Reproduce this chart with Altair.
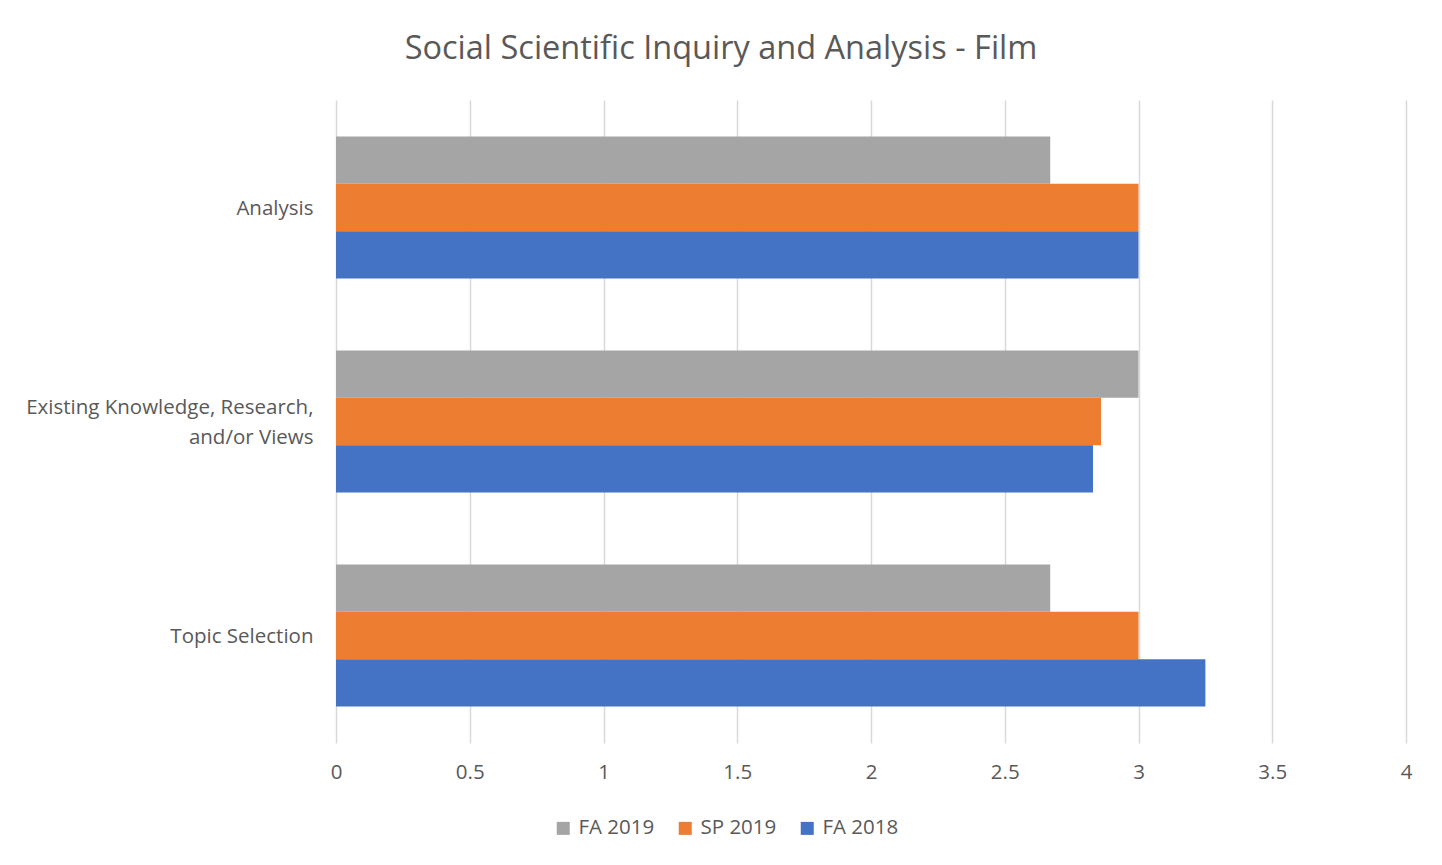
import altair as alt
import pandas as pd

categories = ["Analysis", "Existing Knowledge, Research, and/or Views", "Topic Selection"]
series = ["FA 2019", "SP 2019", "FA 2018"]
fa2019 = [2.67, 3.0, 2.67]
sp2019 = [3.0, 2.86, 3.0]
fa2018 = [3.0, 2.83, 3.25]
colors = ["#A5A5A5", "#ED7D31", "#4472C4"]
x_ticks = [0, 0.5, 1, 1.5, 2, 2.5, 3, 3.5, 4]

rows = []
for s, vals in zip(series, [fa2019, sp2019, fa2018]):
    for c, v in zip(categories, vals):
        rows.append({"category": c, "series": s, "value": v})
df = pd.DataFrame(rows)

FONT = "Open Sans"
TXT = "#595959"

label_expr = ("datum.label == 'Existing Knowledge, Research, and/or Views' ? "
              "['Existing Knowledge, Research,', 'and/or Views'] : datum.label")

chart = alt.Chart(df).mark_bar().encode(
    x=alt.X("value:Q",
            scale=alt.Scale(domain=[0, 4], nice=False),
            axis=alt.Axis(values=x_ticks, title=None, domain=False, ticks=False,
                          grid=True, gridColor="#D9D9D9", gridWidth=1.5,
                          labelFont=FONT, labelFontSize=20.5, labelColor=TXT,
                          labelPadding=19, labelFlush=False,
                          labelExpr="datum.value")),
    y=alt.Y("category:N", sort=categories,
            scale=alt.Scale(paddingInner=0.336, paddingOuter=0.17),
            axis=alt.Axis(title=None, domain=False, ticks=False, grid=False,
                          labelFont=FONT, labelFontSize=20.5, labelColor=TXT,
                          labelPadding=23, labelLineHeight=30, labelLimit=400,
                          labelOffset={"condition": {"test": "indexof(datum.value, 'Existing') == 0",
                                                     "value": -14},
                                       "value": 1.5},
                          labelExpr=label_expr)),
    yOffset=alt.YOffset("series:N", sort=series,
                        scale=alt.Scale(paddingInner=0, paddingOuter=0)),
    color=alt.Color("series:N", sort=series,
                    scale=alt.Scale(domain=series, range=colors),
                    legend=alt.Legend(title=None, orient="none", direction="horizontal",
                                      legendX=217, legendY=718,
                                      symbolType="square", symbolSize=169,
                                      symbolStrokeWidth=0,
                                      labelFont=FONT, labelFontSize=20.5, labelColor=TXT,
                                      columnPadding=20, labelOffset=5)),
).properties(
    width=1070,
    height=643,
    title=alt.TitleParams("Social Scientific Inquiry and Analysis - Film",
                          font=FONT, fontSize=32.5, fontWeight="normal", color=TXT,
                          anchor="middle", dx=-150, offset=35),
    autosize=alt.AutoSizeParams(type="none"),
    padding={"left": 328, "top": 92, "right": 28, "bottom": 114},
).configure_view(stroke=None)

chart.save("out.html", embed_options={"renderer": "svg", "actions": False})
